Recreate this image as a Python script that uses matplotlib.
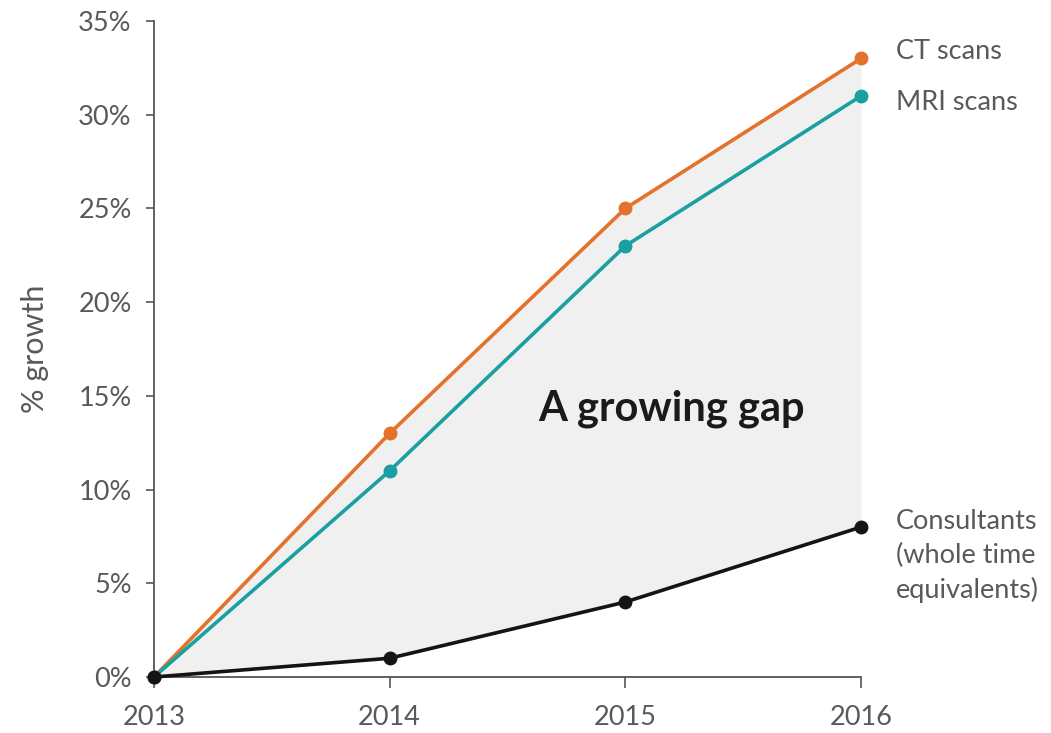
import matplotlib.pyplot as plt
from matplotlib.ticker import PercentFormatter

# Growth since 2013 (%)
years = [2013, 2014, 2015, 2016]
ct_scans = [0, 13, 25, 33]
mri_scans = [0, 11, 23, 31]
consultants = [0, 1, 4, 8]

series_labels = ["CT scans", "MRI scans", "Consultants\n(whole time\nequivalents)"]
y_ticks = [0, 5, 10, 15, 20, 25, 30, 35]

plt.rcParams['font.family'] = ['Lato', 'DejaVu Sans']

ORANGE = '#e4722a'
TEAL = '#1a9fa2'
BLACK = '#141414'
GREY_TEXT = '#595959'

fig = plt.figure(figsize=(10.51, 7.33), dpi=100)
ax = fig.add_axes([154 / 1051, 56 / 733, (861 - 154) / 1051, (677 - 21) / 733])

# shaded gap between the scan growth and the consultant growth
ax.fill_between(years, consultants, ct_scans, color='#f0f0f0', zorder=0, linewidth=0)

for vals, col in [(ct_scans, ORANGE), (mri_scans, TEAL), (consultants, BLACK)]:
    ax.plot(years, vals, color=col, lw=2.6, marker='o', ms=9, clip_on=False, zorder=3)

ax.set_xlim(2013, 2016)
ax.set_ylim(0, 35)
ax.set_xticks(years)
ax.set_yticks(y_ticks)
ax.yaxis.set_major_formatter(PercentFormatter(decimals=0))

for side in ['top', 'right']:
    ax.spines[side].set_visible(False)
for side in ['left', 'bottom']:
    ax.spines[side].set_color('#555555')
    ax.spines[side].set_linewidth(1.3)

ax.tick_params(axis='both', colors='#555555', labelcolor=GREY_TEXT, labelsize=19.5,
               width=1.2)
ax.tick_params(axis='x', length=8, pad=12)
ax.tick_params(axis='y', length=6, pad=10)

ax.set_ylabel('% growth', fontsize=22, color=GREY_TEXT, labelpad=21)

# series labels at the end of each line
ends = [ct_scans[-1], mri_scans[-1], consultants[-1]]
nudges = [5, -5, 13]
for lab, y, dy in zip(series_labels, ends, nudges):
    ax.annotate(lab, xy=(years[-1], y), xytext=(25, dy), textcoords='offset points',
                fontsize=19.5, color=GREY_TEXT, va='top' if '\n' in lab else 'center',
                ha='left', linespacing=1.42, annotation_clip=False)

ax.text(2014.63, 14.3, 'A growing gap', fontsize=30, fontweight='bold',
        color='#1a1a1a', ha='left', va='center')

fig.savefig('out.png', dpi=100)
